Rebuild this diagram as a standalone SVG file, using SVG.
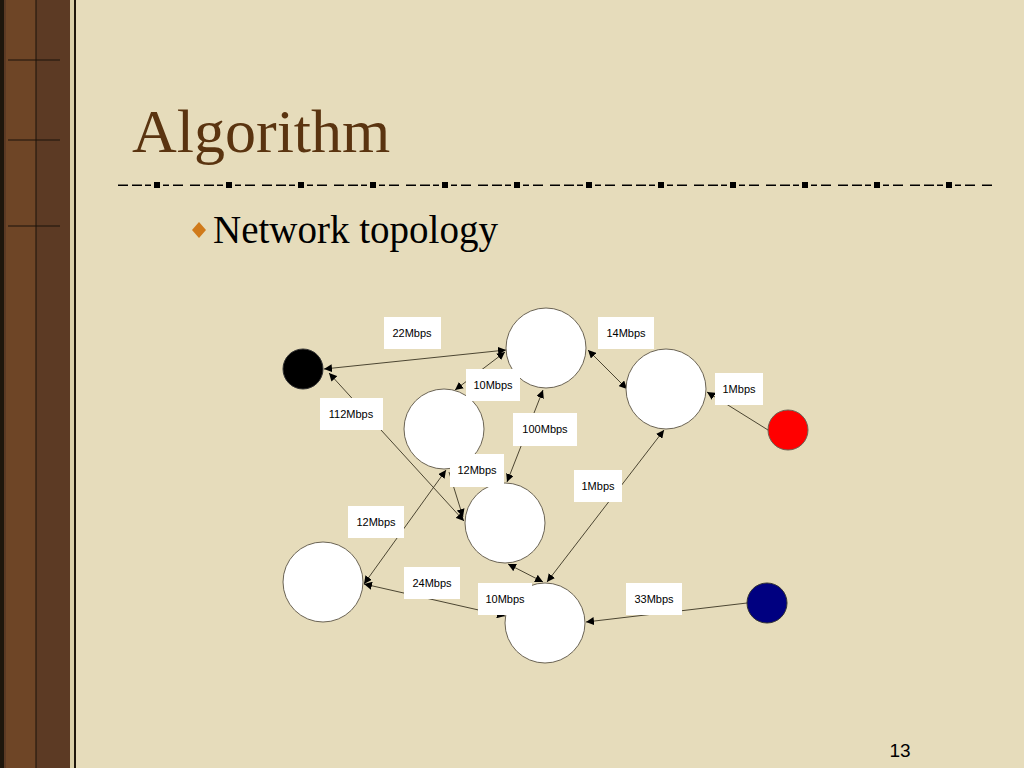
<svg xmlns="http://www.w3.org/2000/svg" width="1024" height="768" viewBox="0 0 1024 768">
<defs>
<marker id="ah" viewBox="0 0 10 10" refX="10" refY="5" markerWidth="8" markerHeight="8" orient="auto-start-reverse" markerUnits="userSpaceOnUse"><path d="M0,0 L10,5 L0,10 z" fill="#000"/></marker>
<pattern id="dash" x="118" y="180" width="72" height="10" patternUnits="userSpaceOnUse">
<rect x="0" y="4.5" width="10" height="1.5" fill="#000"/><rect x="14" y="4.5" width="10" height="1.5" fill="#000"/><rect x="27" y="4.5" width="6" height="1.5" fill="#000"/><rect x="36" y="2" width="6" height="6" fill="#000"/><rect x="45" y="4.5" width="6" height="1.5" fill="#000"/><rect x="55" y="4.5" width="10" height="1.5" fill="#000"/>
</pattern>
</defs>
<style>
.n{fill:#fff;stroke:#6b6455;stroke-width:1}
.lb rect{fill:#fff}
.lb text{font-family:"Liberation Sans",Arial,sans-serif;font-size:11px;fill:#000;text-anchor:middle}
#edges line{stroke:#3a3422;stroke-width:0.9;marker-end:url(#ah)}
#edges line.b{marker-start:url(#ah)}
</style>
<rect width="1024" height="768" fill="#e6dcbb"/>
<rect x="0" y="0" width="76" height="768" fill="#1e160c"/>
<rect x="4" y="0" width="68" height="768" fill="#5c3a24"/>
<rect x="6" y="0" width="30" height="768" fill="#6e4526"/>
<path d="M8 60 L60 60 M8 140 L60 140 M8 226 L60 226 M36 0 V768" stroke="#1a120a" stroke-width="1"/>
<rect x="70" y="0" width="4" height="768" fill="#d9cfa8"/>
<text x="132" y="152" font-family="Liberation Serif,Times New Roman,serif" font-size="62" fill="#5a3410">Algorithm</text>
<rect x="118" y="180" width="874" height="10" fill="url(#dash)"/>
<path d="M199 222 L206 230 L199 238 L192 230 Z" fill="#d07a1a"/>
<text x="213" y="243" font-family="Liberation Serif,Times New Roman,serif" font-size="39" fill="#000">Network topology</text>
<text x="900" y="757" font-family="Liberation Sans,Arial,sans-serif" font-size="19" fill="#000" text-anchor="middle">13</text>
<g id="edges">
<line class="b" x1="324" y1="369" x2="506" y2="350"/>
<line class="b" x1="329" y1="373" x2="464" y2="521"/>
<line class="b" x1="505" y1="352" x2="455" y2="390"/>
<line class="b" x1="543" y1="390" x2="507" y2="482"/>
<line class="b" x1="588" y1="350" x2="627" y2="389"/>
<line x1="768" y1="430" x2="707" y2="392"/>
<line class="b" x1="664" y1="430" x2="547" y2="582"/>
<line class="b" x1="446" y1="470" x2="364" y2="584"/>
<line x1="449" y1="472" x2="463" y2="517"/>
<line class="b" x1="508" y1="564" x2="543" y2="582"/>
<line class="b" x1="364" y1="584" x2="505" y2="616"/>
<line x1="747" y1="603" x2="586" y2="622"/>
</g>
<g id="nA"><circle class="n" cx="546" cy="348" r="40"/></g>
<g id="nB"><circle class="n" cx="666" cy="389" r="40"/></g>
<g id="nC"><circle class="n" cx="444" cy="429" r="40"/></g>
<g id="nD"><circle class="n" cx="505" cy="523" r="40"/></g>
<g id="nE"><circle class="n" cx="323" cy="582" r="40"/></g>
<g id="nF"><circle class="n" cx="545" cy="623" r="40"/></g>
<g id="nBlack"><circle cx="303" cy="369" r="20" fill="#000" stroke="#333"/></g>
<g id="nRed"><circle cx="788" cy="430" r="20" fill="#f00" stroke="#6b6455"/></g>
<g id="nBlue"><circle cx="767" cy="603" r="20" fill="#000080" stroke="#333"/></g>
<g id="labels">
<g class="lb"><rect x="384" y="317" width="57" height="32"/><text x="412" y="337">22Mbps</text></g>
<g class="lb"><rect x="598" y="317" width="56" height="32"/><text x="626" y="337">14Mbps</text></g>
<g class="lb"><rect x="466" y="369" width="54" height="32"/><text x="493" y="389">10Mbps</text></g>
<g class="lb"><rect x="320" y="398" width="63" height="32"/><text x="351" y="418">112Mbps</text></g>
<g class="lb"><rect x="715" y="373" width="48" height="32"/><text x="739" y="393">1Mbps</text></g>
<g class="lb"><rect x="513" y="413" width="64" height="33"/><text x="545" y="433">100Mbps</text></g>
<g class="lb"><rect x="450" y="454" width="54" height="33"/><text x="477" y="474">12Mbps</text></g>
<g class="lb"><rect x="574" y="470" width="48" height="32"/><text x="598" y="490">1Mbps</text></g>
<g class="lb"><rect x="348" y="506" width="56" height="32"/><text x="376" y="526">12Mbps</text></g>
<g class="lb"><rect x="404" y="567" width="56" height="32"/><text x="432" y="587">24Mbps</text></g>
<g class="lb"><rect x="478" y="583" width="54" height="32"/><text x="505" y="603">10Mbps</text></g>
<g class="lb"><rect x="626" y="583" width="56" height="32"/><text x="654" y="603">33Mbps</text></g>
</g>
</svg>
